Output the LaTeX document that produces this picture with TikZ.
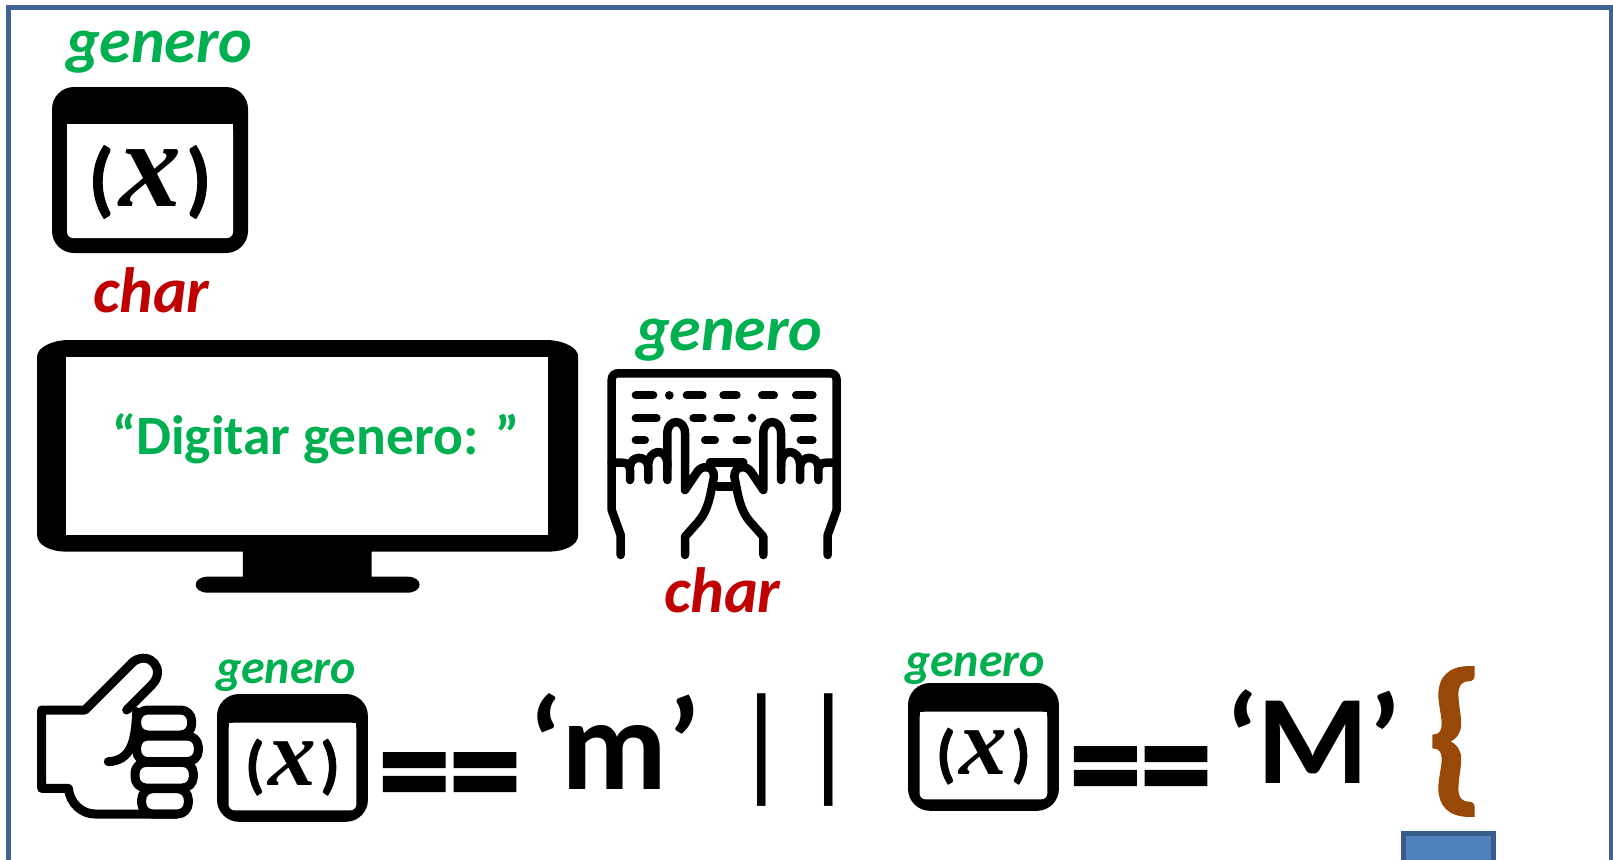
\documentclass[tikz,border=0pt]{standalone}
\usepackage{fontspec}
\setmainfont{Carlito}
\newfontfamily\eqfam[BoldFeatures={FakeBold=2.2}]{Carlito}
\newfontfamily\brfam[BoldFeatures={FakeBold=1}]{Carlito}
\newfontfamily\xfam{Liberation Serif}
\definecolor{frameblue}{HTML}{3F6393}
\definecolor{boxblue}{HTML}{4F81BD}
\definecolor{boxedge}{HTML}{385D8A}
\definecolor{gengreen}{HTML}{00B050}
\definecolor{charred}{HTML}{C00000}
\definecolor{bracebrown}{HTML}{984807}
\newcommand{\fsz}[1]{\fontsize{#1}{#1}\selectfont}
\tikzset{
  lbl/.style={inner sep=0pt,outer sep=0pt,anchor=base west},
  varname/.style={lbl,text=gengreen,font=\fsz{64}\bfseries\itshape},
  smallname/.style={lbl,text=gengreen,font=\fsz{48}\bfseries\itshape},
  typename/.style={lbl,text=charred,font=\fsz{64}\bfseries\itshape},
  big/.style={lbl,text=black,font=\fsz{127}\bfseries},
  eqsign/.style={lbl,text=black,font=\eqfam\fsz{142}\bfseries},
  ink/.style={line width=#1,line cap=round,line join=round,draw=black},
  win/.pic={
    \fill[black,rounded corners=22pt] (0,0) rectangle (196,166);
    \fill[white,rounded corners=6pt] (15,37) -- (181,37) -- (181,151) -- (15,151) -- cycle;
    \fill[white] (15,37) rectangle (181,60);
    \node[inner sep=0pt,transform shape,text=black,font=\brfam\fsz{82}\bfseries] (-x) at (98,95) {(\kern5pt{\xfam\fsz{124}\bfseries\itshape x}\kern5pt)};
  },
  hand/.pic={
    \draw[ink=8.5pt] (92,765) -- (92,705) -- (65,630) -- (65,488) -- (95,488)
      .. controls (112,488) and (120,495) .. (120,510) -- (120,540);
    \draw[ink=8.5pt] (120,500) .. controls (122,465) and (172,465) .. (175,500) -- (175,540);
    \draw[ink=8.5pt] (175,490) .. controls (178,450) and (228,440) .. (232,490) -- (232,540);
    \draw[ink=8.5pt] (232,500) -- (232,400) .. controls (232,355) and (285,355) .. (285,400) -- (285,570)
      -- (322,515) .. controls (335,495) and (372,495) .. (372,530)
      .. controls (360,590) and (355,630) .. (325,665) -- (285,710) -- (285,765);
  },
  thumbicon/.pic={
    \draw[ink=9pt] (320,240) -- (395,165) .. controls (440,120) and (390,60) .. (340,95)
      -- (195,240) -- (65,240) -- (65,475) -- (145,475)
      .. controls (150,520) and (185,552) .. (225,552) -- (470,552);
    \draw[ink=9pt,rounded corners=11pt] (350,240) rectangle (515,315);
    \draw[ink=9pt,rounded corners=11pt] (350,318) rectangle (535,395);
    \draw[ink=9pt,rounded corners=11pt] (345,397) rectangle (520,474);
    \draw[ink=9pt,rounded corners=11pt] (365,476) rectangle (505,552);
    \draw[ink=9pt] (350,245) .. controls (347,340) and (330,392) .. (265,395);
  }
}
\begin{document}
\begin{tikzpicture}[x=1pt,y=-1pt]
\useasboundingbox (0,0) rectangle (1613,859);
\fill[white] (0,0) rectangle (1613,859);
\begin{scope}
\clip (0,0) rectangle (1613,859);
\draw[frameblue,line width=5pt] (8,8) rectangle (1611,900);
\draw[boxedge,fill=boxblue,line width=5pt] (1403,833.5) rectangle (1493,900);
\end{scope}

% window 1
\pic (w1) at (52,87) {win};
\node[varname] (g1) at (66,63) {genero};
\node[typename] (c1) at (93,312) {char};

% monitor
\begin{scope}[shift={(20,320)},xscale=1/2.75,yscale=1/3]
\fill[black] (130,60) -- (1450,60) .. controls (1500,62) and (1535,85) .. (1535,110)
  -- (1535,645) .. controls (1535,675) and (1500,695) .. (1450,695)
  -- (967,695) -- (967,770) -- (1065,770) .. controls (1110,770) and (1110,818) .. (1065,818)
  -- (517,818) .. controls (472,818) and (472,770) .. (517,770) -- (613,770) -- (613,695)
  -- (130,695) .. controls (82,695) and (47,675) .. (47,645) -- (47,110)
  .. controls (47,85) and (82,62) .. (130,60) -- cycle;
\fill[white] (127,110) rectangle (1453,645);
\end{scope}
\node[lbl,text=gengreen,font=\fsz{55.5}\bfseries] (prompt) at (112,454) {“Digitar genero: ”};

% keyboard
\node[varname] (g2) at (636,350) {genero};
\node[typename] (c2) at (664,612) {char};
\begin{scope}[shift={(590,300)},scale=1/3]
\draw[ink=8.5pt] (65,488) -- (65,240) .. controls (65,225) and (75,220) .. (85,220) -- (720,220)
  .. controls (730,220) and (740,225) .. (740,240) -- (740,488);
\foreach \a/\b in {137/190,290/338,400/440,516/552,618/668}
  \draw[ink=8pt] (\a,286) -- (\b,286);
\fill (238,286) circle (13);
\foreach \a/\b in {137/200,310/338,382/424,612/668}
  \draw[ink=8pt] (\a,354) -- (\b,354);
\fill (486,354) circle (13);
\foreach \a/\b in {137/165,345/375,440/472,632/668}
  \draw[ink=8pt] (\a,421) -- (\b,421);
\draw[ink=8.5pt] (360,488) -- (460,488);
\draw[ink=8.5pt] (382,560) -- (428,560);
\end{scope}
\pic[scale=1/3] (hl) at (590,300) {hand};
\pic[xscale=-1/3,yscale=1/3] (hr) at (858.33,300) {hand};

% thumb
\pic[scale=1/3] (th) at (20,630) {thumbicon};

% condition
\node[smallname] (g3) at (216,683) {genero};
\pic[scale=.77] (w2) at (217,694) {win};
\node[eqsign] (eq1) at (379,817) {==};
\node[big,font=\fsz{130}\bfseries] (m) at (528,789) {‘m’};
\node[lbl,text=black,font=\fsz{127}] (or) at (732,785) {|\kern9pt|};
\node[smallname] (g4) at (905,676) {genero};
\pic[scale=.77] (w3) at (908,683) {win};
\node[eqsign] (eq2) at (1070,811) {==};
\node[big] (mm) at (1225,783) {‘M’};
\node[lbl,text=bracebrown,font=\brfam\fsz{170}\bfseries] (br) at (1426,791) {\{};
\end{tikzpicture}
\end{document}
